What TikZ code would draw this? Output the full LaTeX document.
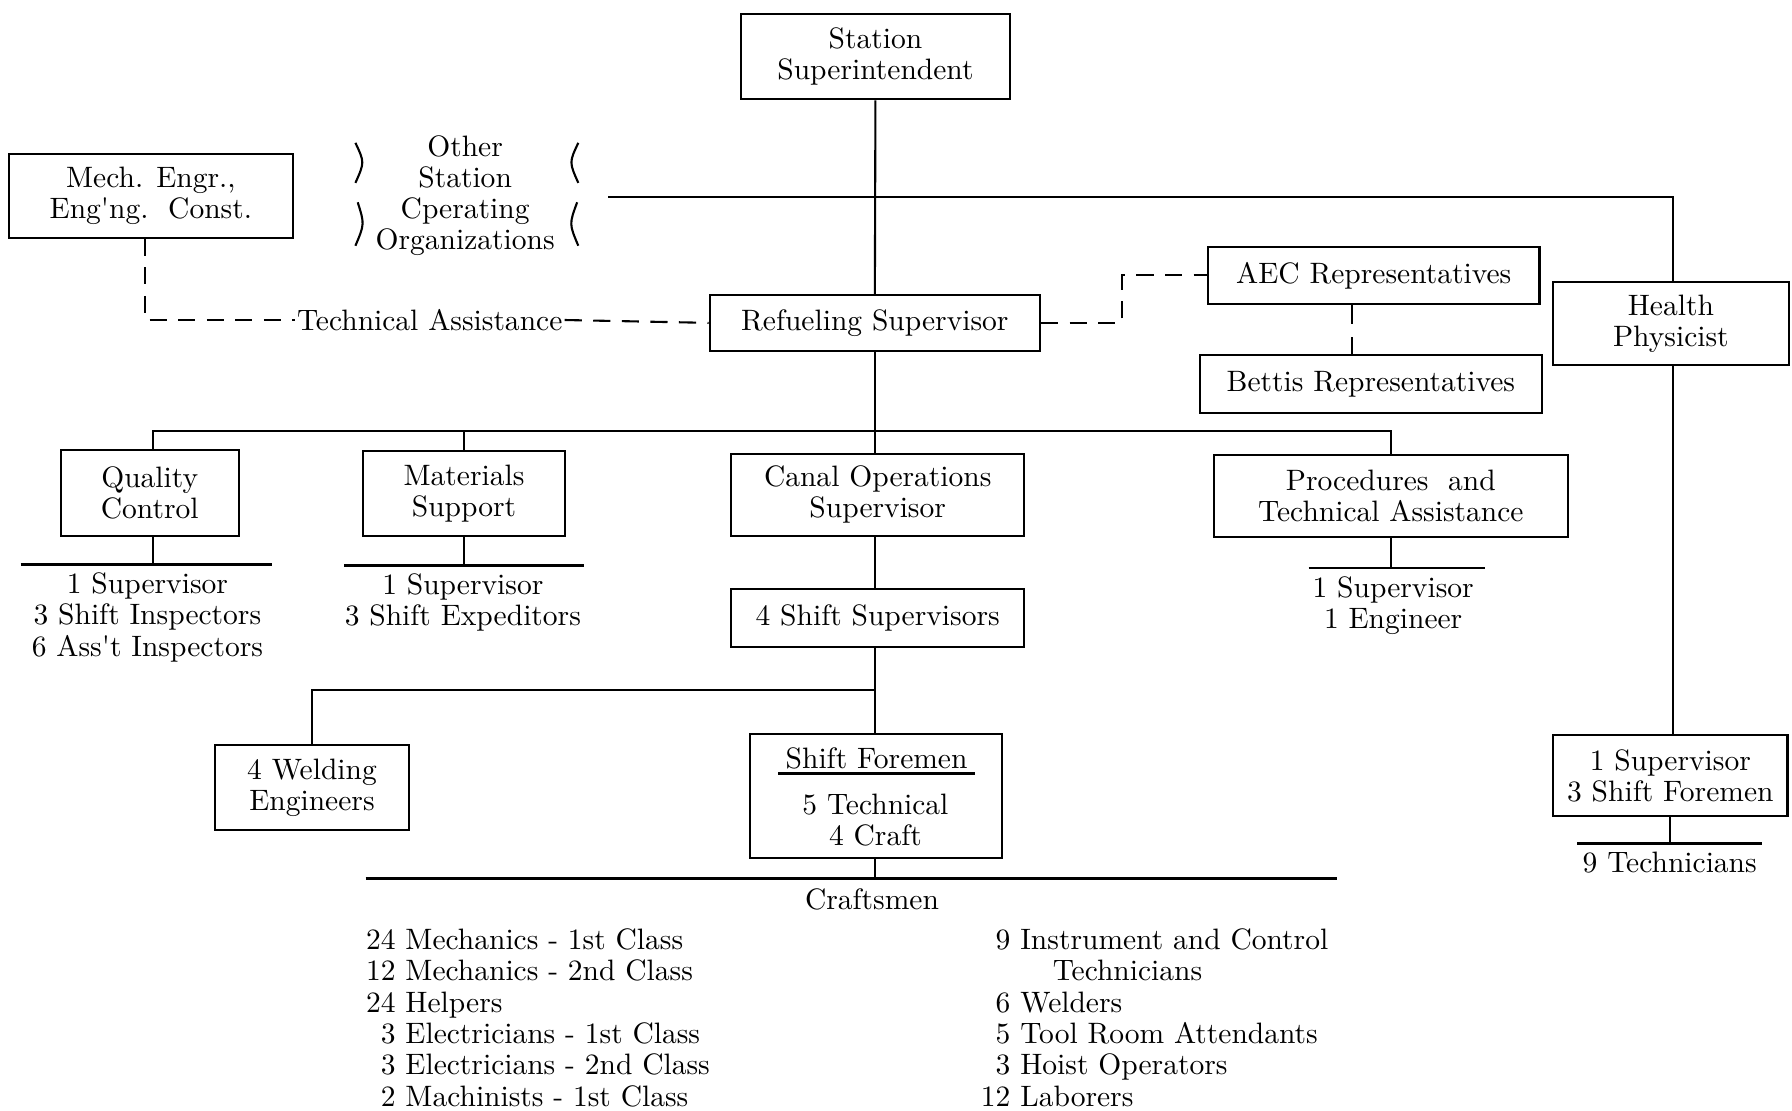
\documentclass[tikz,border=0pt]{standalone}
\usepackage{fontspec}
\setmainfont{lmroman10-regular.otf}
\newcommand\fsz{\fontsize{15.5}{16.3}\selectfont}
\newcommand\fsl{\fontsize{15.5}{16.5}\selectfont}
\begin{document}
\begin{tikzpicture}[x=0.6pt,y=-0.6pt]
\tikzset{
  every node/.style={font=\fsz, inner sep=0pt},
  bx/.style 2 args={draw, line width=1.1pt, align=center, minimum width=#1*0.6pt, minimum height=#2*0.6pt},
  ln/.style={line width=1.1pt},
  dsh/.style={line width=1.1pt, dash pattern=on 9pt off 6pt},
  dshb/.style={line width=1.1pt, dash pattern=on 10pt off 7pt},
  rule/.style={line width=1.5pt},
  lst/.style={align=center, font=\fsl},
}
\fill[white] (0,0) rectangle (1568,972);
\useasboundingbox (0,0) rectangle (1568,972);

% boxes
\node[bx={236}{75}] (ss) at (766,49.5) {Station\\Superintendent};
\node[bx={248}{73}] (me) at (132,171.5) {Mech. Engr.,\\Eng\textquotesingle ng.\ \ Const.};
\node[align=center] (oso) at (407,171.5) {Other\\Station\\Cperating\\Organizations};
\coordinate (osoR) at (532,172);
\node[bx={289}{49}] (rs) at (765.5,282.5) {Refueling Supervisor};
\node[inner sep=1pt] (ta) at (376,280) {Technical Assistance};
\node[bx={290}{50}] (aec) at (1202,241) {AEC Representatives};
\node[bx={299}{50}] (bet) at (1199.5,336) {Bettis Representatives};
\node[bx={206}{72}] (hp) at (1462,283) {Health\\Physicist};
\node[bx={156}{75}] (qc) at (131,431.5) {Quality\\Control};
\node[bx={176}{74}] (ms) at (406,432) {Materials\\Support};
\node[bx={256}{72}] (cos) at (768,433) {Canal Operations\\Supervisor};
\node[bx={310}{72}] (pta) at (1217,434) {Procedures\ \ and\\Technical Assistance};
\node[bx={256}{51}] (shs) at (768,540.5) {4 Shift Supervisors};
\node[bx={170}{74}] (we) at (273,689) {4 Welding\\Engineers};
\node[bx={221}{109}] (sf) at (766.5,696.5) {};
\node (sft) at (767,664) {Shift Foremen};
\coordinate (sfuL) at (681,677);
\coordinate (sfuR) at (853,677);
\node[align=center] (sfc) at (766,717.5) {5 Technical\\4 Craft};
\node[bx={205}{71}] (hps) at (1461.5,678.5) {1 Supervisor\\3 Shift Foremen};

% lists
\node[lst] (qcl) at (129,540) {1 Supervisor\\3 Shift Inspectors\\6 Ass\textquotesingle t Inspectors};
\node[lst] (msl) at (405,527) {1 Supervisor\\3 Shift Expeditors};
\node[lst] (ptal) at (1219,530) {1 Supervisor\\1 Engineer};
\node (tech) at (1461,755) {9 Technicians};
\node (craft) at (763,787) {Craftsmen};
\node[anchor=north west, font=\fsl] (cl) at (320,811) {\begin{tabular}{@{}r@{\ }l@{}}
24 & Mechanics - 1st Class\\
12 & Mechanics - 2nd Class\\
24 & Helpers\\
3 & Electricians - 1st Class\\
3 & Electricians - 2nd Class\\
2 & Machinists - 1st Class
\end{tabular}};
\node[anchor=north west, font=\fsl] (cr) at (858,811) {\begin{tabular}{@{}r@{\ }l@{}}
9 & Instrument and Control\\
 & \hspace{1.1em}Technicians\\
6 & Welders\\
5 & Tool Room Attendants\\
3 & Hoist Operators\\
12 & Laborers
\end{tabular}};

% coordinates
\coordinate (spine) at (766,0);
\coordinate (bus) at (765.5,377);
\coordinate (abx) at (1183,300);
\coordinate (medrop) at (127,0);
\coordinate (qcdrop) at (134,0);
\coordinate (hpx) at (1464,0);
\coordinate (wj) at (766,604);
\coordinate (qcL) at (18,494);
\coordinate (qcR) at (238,494);
\coordinate (msL) at (301,495);
\coordinate (msR) at (511,495);
\coordinate (ptaL) at (1145,497);
\coordinate (ptaR) at (1299,497);
\coordinate (crL) at (320,769);
\coordinate (crR) at (1170,769);
\coordinate (hpuL) at (1380,738);
\coordinate (hpuR) at (1542,738);

% connectors
\draw[ln] (ss.south) -- (rs.north);
\draw[ln] (osoR) -| (hp.north -| hpx);
\draw[dsh] (me.south -| medrop) |- (ta.west);
\draw[dsh] (ta.east) -- (rs.west);
\draw[dsh] (rs.east) -- ++(71,0) |- (aec.west);
\draw[dshb] (aec.south -| abx) -- (bet.north -| abx);
\draw[ln] (rs.south) -- (rs.south |- cos.north);
\draw[ln] (qc.north -| qcdrop) |- (bus) -| (pta.north);
\draw[ln] (ms.north) -- (ms.north |- bus);
\draw[ln] (cos.south -| spine) -- (shs.north -| spine);
\draw[ln] (shs.south -| spine) -- (sf.north -| spine);
\draw[ln] (wj) -| (we.north);
\draw[ln] (sf.south -| spine) -- (spine |- crL);
\draw[rule] (crL) -- (crR);
\draw[rule] (sfuL) -- (sfuR);
\draw[ln] (qc.south -| qcdrop) -- (qcdrop |- qcL);
\draw[rule] (qcL) -- (qcR);
\draw[ln] (ms.south) -- (ms.south |- msL);
\draw[rule] (msL) -- (msR);
\draw[ln] (pta.south) -- (pta.south |- ptaL);
\draw[rule] (ptaL) -- (ptaR);
\draw[ln] (hp.south -| hpx) -- (hpx |- hps.north);
\draw[ln] (hps.south) -- (hps.south |- hpuL);
\draw[rule] (hpuL) -- (hpuR);

% brackets around "Other Station Cperating Organizations"
\draw[ln] (311,125) .. controls (319,142) .. (311,160);
\draw[ln] (313,177) .. controls (319,196) .. (311,215);
\draw[ln] (506,125) .. controls (498,142) .. (506,160);
\draw[ln] (505,177) .. controls (498,196) .. (506,215);
\end{tikzpicture}
\end{document}
